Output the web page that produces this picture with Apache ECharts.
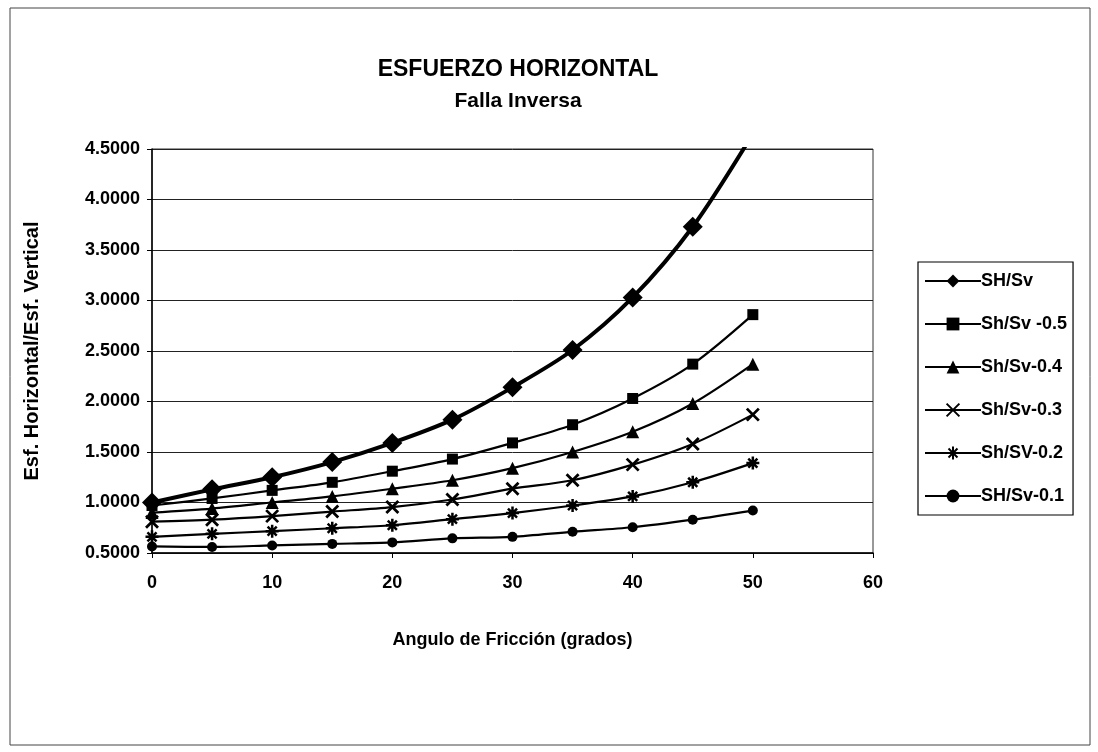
<!DOCTYPE html>
<html>
<head>
<meta charset="utf-8">
<script src="https://cdn.jsdelivr.net/npm/echarts@6/dist/echarts.min.js"></script>
<style>
html,body{margin:0;padding:0;background:#fff;}
#chart{width:1098px;height:752px;}
</style>
</head>
<body>
<div id="chart"></div>
<script>
// ---- data ----
const angles = [0, 5, 10, 15, 20, 25, 30, 35, 40, 45, 50];
const shSv    = [1.00, 1.13, 1.25, 1.40, 1.59, 1.82, 2.14, 2.51, 3.03, 3.73, 4.65];
const shSv05  = [0.97, 1.04, 1.12, 1.20, 1.31, 1.43, 1.59, 1.77, 2.03, 2.37, 2.86];
const shSv04  = [0.90, 0.94, 1.00, 1.06, 1.136, 1.22, 1.34, 1.50, 1.70, 1.98, 2.37];
const shSv03  = [0.81, 0.83, 0.865, 0.91, 0.955, 1.03, 1.137, 1.22, 1.375, 1.58, 1.87];
const shSv02  = [0.66, 0.69, 0.716, 0.745, 0.775, 0.835, 0.895, 0.97, 1.06, 1.20, 1.39];
const shSv01  = [0.565, 0.56, 0.575, 0.59, 0.605, 0.645, 0.66, 0.71, 0.755, 0.83, 0.92];
const seriesNames = ['SH/Sv', 'Sh/Sv -0.5', 'Sh/Sv-0.4', 'Sh/Sv-0.3', 'Sh/SV-0.2', 'SH/Sv-0.1'];
const titleMain = 'ESFUERZO HORIZONTAL';
const titleSub = 'Falla Inversa';
const xName = 'Angulo de Fricción (grados)';
const yName = 'Esf. Horizontal/Esf. Vertical';
const yMin = 0.5, yMax = 4.5, yStep = 0.5;
const xMin = 0, xMax = 60, xStep = 10;

const FONT = "'Liberation Sans',Arial,sans-serif";
const pair = arr => angles.map((a, i) => [a, arr[i]]);

const xPath = 'path://M0,0L10,10M10,0L0,10';
const starPath = 'path://M5,0L5,10M0,5L10,5M1.5,1.5L8.5,8.5M8.5,1.5L1.5,8.5';

const styles = [
  {data: shSv,   symbol: 'diamond',  size: 20, width: 4,   stroke: 0},
  {data: shSv05, symbol: 'rect',     size: 11, width: 2.2, stroke: 0},
  {data: shSv04, symbol: 'triangle', size: 13, width: 2.2, stroke: 0},
  {data: shSv03, symbol: xPath,      size: 12, width: 2.2, stroke: 2.8},
  {data: shSv02, symbol: starPath,   size: 13, width: 2.2, stroke: 2.5},
  {data: shSv01, symbol: 'circle',   size: 10, width: 2.2, stroke: 0}
];

const series = styles.map((s, i) => ({
  name: seriesNames[i],
  type: 'line',
  data: pair(s.data),
  smooth: 0.3,
  symbol: s.symbol,
  symbolSize: s.size,
  showAllSymbol: true,
  z: 10 - i,
  lineStyle: {color: '#000', width: s.width},
  itemStyle: {color: '#000', borderColor: '#000', borderWidth: s.stroke},
  emphasis: {disabled: true}
}));

const chart = echarts.init(document.getElementById('chart'), null, {renderer: 'canvas'});
chart.setOption({
  animation: false,
  backgroundColor: '#fff',
  graphic: [
    {type: 'rect', shape: {x: 10, y: 8, width: 1080, height: 737},
     style: {fill: 'none', stroke: '#444', lineWidth: 1}, silent: true},
    {type: 'text', x: 518, y: 70,
     style: {text: titleMain, font: 'bold 23px ' + FONT, fill: '#000', textAlign: 'center', textVerticalAlign: 'middle'}},
    {type: 'text', x: 518, y: 101,
     style: {text: titleSub, font: 'bold 21px ' + FONT, fill: '#000', textAlign: 'center', textVerticalAlign: 'middle'}}
  ],
  grid: {left: 152, top: 149, width: 721, height: 404, show: true,
         borderColor: '#333', borderWidth: 1, backgroundColor: '#fff'},
  legend: {
    orient: 'vertical', left: 918, top: 262,
    data: seriesNames,
    borderColor: '#000', borderWidth: 1.2,
    padding: [10, 6, 10, 6],
    itemWidth: 56, itemHeight: 16, itemGap: 25,
    textStyle: {fontFamily: FONT, fontWeight: 'bold', fontSize: 18, color: '#000', padding: [0, 0, 0, -5]},
    selectedMode: false
  },
  xAxis: {
    type: 'value', min: xMin, max: xMax, interval: xStep,
    name: xName, nameLocation: 'middle', nameGap: 78,
    nameTextStyle: {fontFamily: FONT, fontWeight: 'bold', fontSize: 18, color: '#000'},
    axisLine: {lineStyle: {color: '#000', width: 1.5}},
    axisTick: {show: true, length: 5, lineStyle: {color: '#000'}},
    axisLabel: {fontFamily: FONT, fontWeight: 'bold', fontSize: 18, color: '#000', margin: 21},
    splitLine: {show: false}
  },
  yAxis: {
    type: 'value', min: yMin, max: yMax, interval: yStep,
    name: yName, nameLocation: 'middle', nameGap: 110,
    nameTextStyle: {fontFamily: FONT, fontWeight: 'bold', fontSize: 20, color: '#000'},
    axisLine: {show: true, lineStyle: {color: '#000', width: 1.5}},
    axisTick: {show: true, length: 5, lineStyle: {color: '#000'}},
    axisLabel: {fontFamily: FONT, fontWeight: 'bold', fontSize: 18, color: '#000', margin: 12,
                formatter: v => v.toFixed(4)},
    splitLine: {show: true, lineStyle: {color: '#222', width: 1}}
  },
  series: series
});
</script>
</body>
</html>
